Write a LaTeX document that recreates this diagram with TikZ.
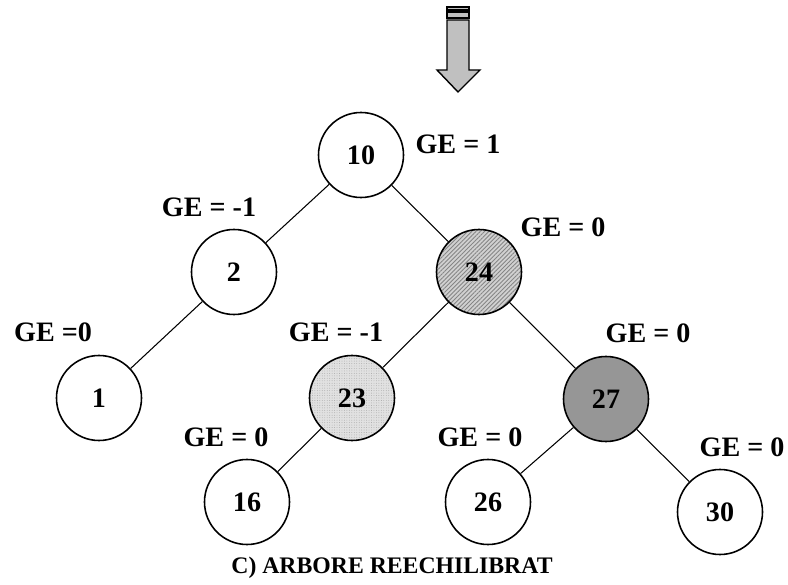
\documentclass[tikz,border=0pt]{standalone}
\usepackage{fontspec}
\setmainfont{Liberation Serif}
\usetikzlibrary{patterns.meta}
\definecolor{arrowgray}{RGB}{192,192,192}
\definecolor{rotgray}{RGB}{150,150,150}
\definecolor{lightgray}{RGB}{225,225,225}

\begin{document}
\begin{tikzpicture}[
    font=\fontsize{16}{19}\selectfont\bfseries,
    nod/.style={circle, draw, line width=0.9pt, minimum size=1.7cm, inner sep=0pt},
    plain/.style={nod, fill=white},
    hatched/.style={nod, preaction={fill=black!18},
                    pattern={Lines[angle=45, distance=1.7pt, line width=0.5pt]}, pattern color=black!48},
    dotted/.style={nod, preaction={fill=lightgray},
                   pattern={Dots[distance=1.4pt, radius=0.25pt]}, pattern color=black!35},
    dark/.style={nod, fill=rotgray},
    link/.style={line width=0.6pt},
    ge/.style={inner sep=1pt}
]
\useasboundingbox (0,0) rectangle (15.76,-11.70);

% striped arrow at the top
\fill[arrowgray, draw=black, line width=0.8pt] (8.94,-0.14) rectangle (9.38,-0.20);
\fill[arrowgray, draw=black, line width=0.8pt] (8.94,-0.24) rectangle (9.38,-0.36);
\fill[arrowgray, draw=black, line width=0.8pt] (8.94,-0.40) -- (9.38,-0.40) -- (9.38,-1.40)
    -- (9.60,-1.40) -- (9.16,-1.84) -- (8.74,-1.40) -- (8.94,-1.40) -- cycle;

% tree nodes
\node[plain] (n10) at (7.22,-3.10) {10};
\node[plain] (n2) at (4.68,-5.44) {2};
\node[hatched] (n24) at (9.58,-5.44) {24};
\node[plain] (n1) at (1.98,-7.96) {1};
\node[dotted] (n23) at (7.04,-7.96) {23};
\node[dark] (n27) at (12.12,-7.98) {27};
\node[plain] (n16) at (4.94,-10.04) {16};
\node[plain] (n26) at (9.76,-10.04) {26};
\node[plain] (n30) at (14.40,-10.24) {30};

% edges
\draw[link] (n10) -- (n2);
\draw[link] (n10) -- (n24);
\draw[link] (n2) -- (n1);
\draw[link] (n24) -- (n23);
\draw[link] (n24) -- (n27);
\draw[link] (n23) -- (n16);
\draw[link] (n27) -- (n26);
\draw[link] (n27) -- (n30);

% balance factors
\node[ge] (g10) at (9.16,-2.88) {GE = 1};
\node[ge] (g2) at (4.18,-4.14) {GE = -1};
\node[ge] (g24) at (11.26,-4.54) {GE = 0};
\node[ge] (g1) at (1.06,-6.64) {GE =0};
\node[ge] (g23) at (6.72,-6.64) {GE = -1};
\node[ge] (g27) at (12.96,-6.66) {GE = 0};
\node[ge] (g16) at (4.52,-8.74) {GE = 0};
\node[ge] (g26) at (9.60,-8.74) {GE = 0};
\node[ge] (g30) at (14.84,-8.94) {GE = 0};

% caption
\node[font=\fontsize{13.5}{16}\selectfont\bfseries] (cap) at (7.84,-11.36) {C) ARBORE REECHILIBRAT};

\end{tikzpicture}
\end{document}
